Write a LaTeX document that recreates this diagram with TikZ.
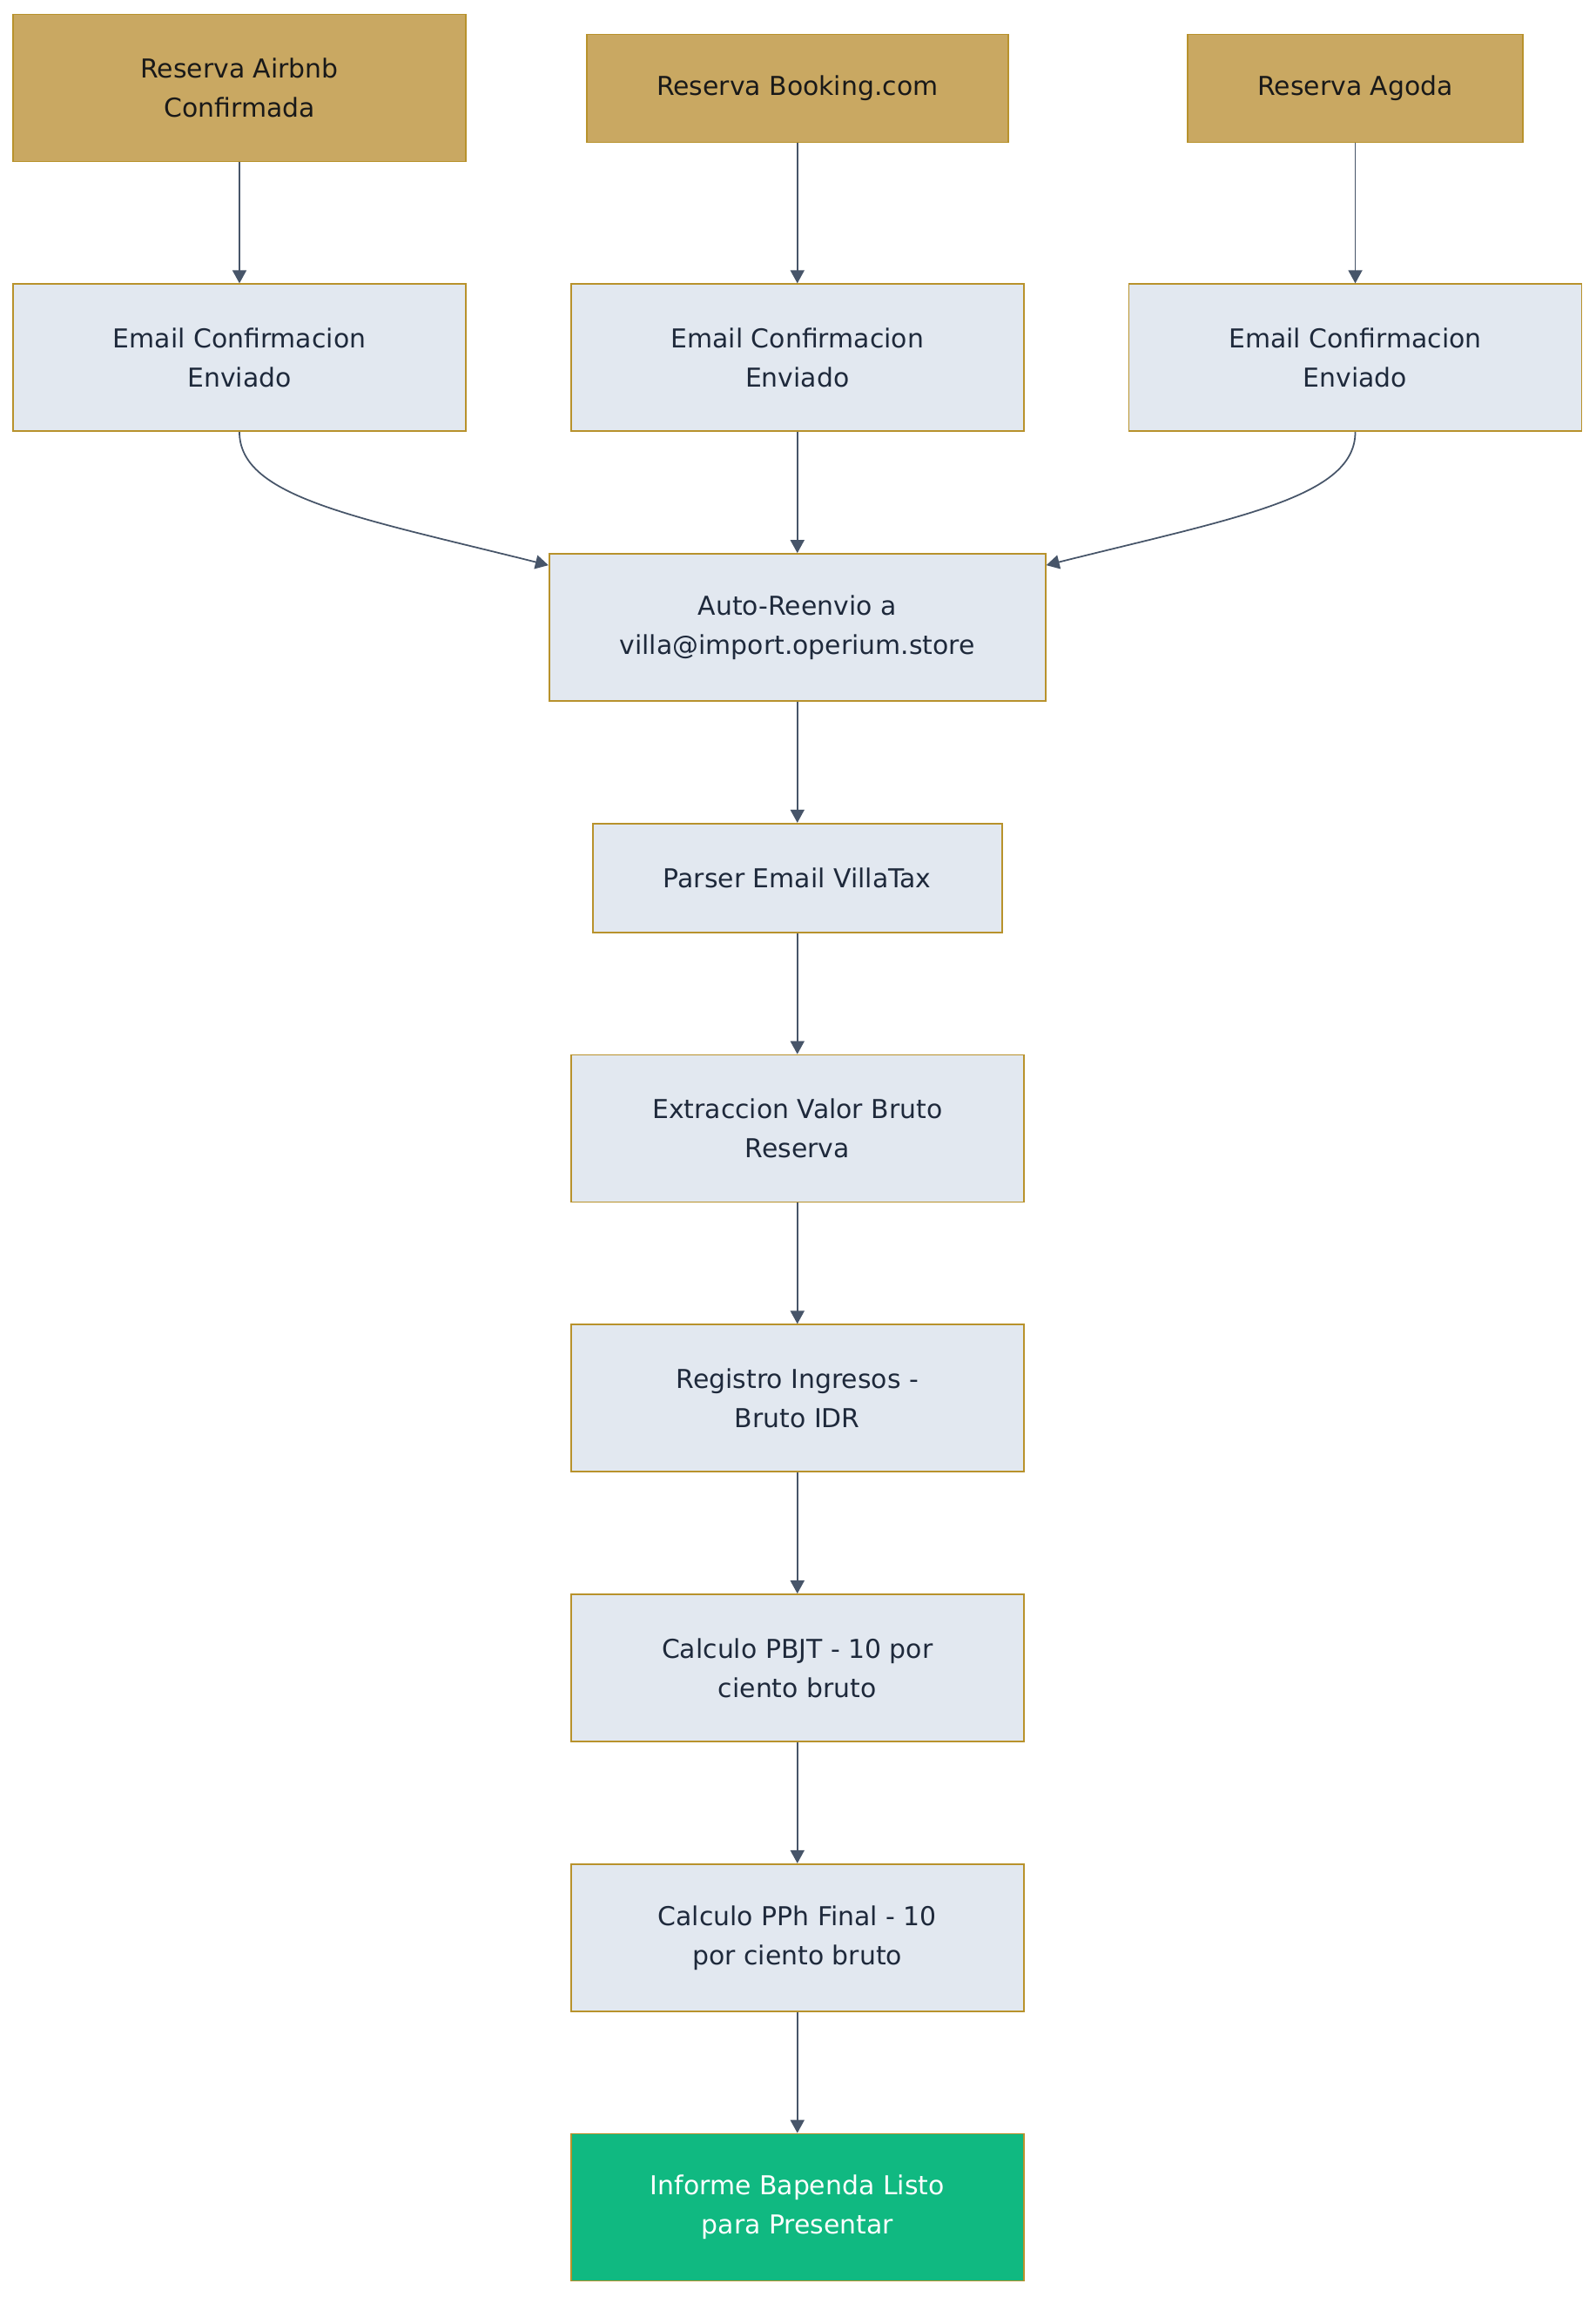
\documentclass[tikz,border=0pt]{standalone}
\usepackage{fontspec}
\setmainfont{DejaVu Sans}
\usepackage{tikz}
\usetikzlibrary{positioning, arrows.meta}
\definecolor{goldfill}{HTML}{C9A862}
\definecolor{goldline}{HTML}{B8922C}
\definecolor{stepfill}{HTML}{E2E8F0}
\definecolor{steptext}{HTML}{1E293B}
\definecolor{edgecol}{HTML}{475569}
\definecolor{donefill}{HTML}{10B981}

\begin{document}
\begin{tikzpicture}[
  font=\fontsize{8.5}{12.8}\selectfont,
  node distance=1.39cm,
  box/.style={rectangle, draw=goldline, line width=0.5pt, inner sep=0pt, align=center, minimum width=52mm, minimum height=16.9mm},
  src/.style={box, fill=goldfill, text=black!90},
  proc/.style={box, fill=stepfill, text=steptext},
  done/.style={box, fill=donefill, text=white},
  arr/.style={-{Triangle[length=1.5mm, width=1.6mm]}, draw=edgecol, line width=0.5pt}
]
\useasboundingbox (0,0) rectangle (18.32,-26.38);
% ----- sources -----
\node[src] (air) at (2.75,-1.01) {Reserva Airbnb\\Confirmada};
\node[proc, below=of air] (m1) {Email Confirmacion\\Enviado};
\node[proc, right=1.19cm of m1] (m2) {Email Confirmacion\\Enviado};
\node[proc, right=1.19cm of m2] (m3) {Email Confirmacion\\Enviado};
\node[src, above=1.61cm of m2, minimum width=48.4mm, minimum height=12.4mm] (bk) {Reserva Booking.com};
\node[src, above=1.61cm of m3, minimum width=38.5mm, minimum height=12.4mm] (ag) {Reserva Agoda};
\draw[arr] (air) -- (m1);
\draw[arr] (bk) -- (m2);
\draw[arr] (ag) -- (m3);
% ----- pipeline -----
\node[proc, below=of m2, minimum width=57mm] (fwd) {Auto-Reenvio a\\villa@import.operium.store};
\draw[arr] (m1.south) .. controls +(0,-0.75) and +(-2.2,0.55) .. ([yshift=-1.4mm]fwd.north west);
\draw[arr] (m2) -- (fwd);
\draw[arr] (m3.south) .. controls +(0,-0.75) and +(2.2,0.55) .. ([yshift=-1.4mm]fwd.north east);
\node[proc, below=of fwd, minimum width=47mm, minimum height=12.5mm] (prs) {Parser Email VillaTax};
\node[proc, below=of prs] (ext) {Extraccion Valor Bruto\\Reserva};
\node[proc, below=of ext] (reg) {Registro Ingresos -\\Bruto IDR};
\node[proc, below=of reg] (pbjt) {Calculo PBJT - 10 por\\ciento bruto};
\node[proc, below=of pbjt] (pph) {Calculo PPh Final - 10\\por ciento bruto};
\node[done, below=of pph] (rep) {Informe Bapenda Listo\\para Presentar};
\draw[arr] (fwd) -- (prs);
\draw[arr] (prs) -- (ext);
\draw[arr] (ext) -- (reg);
\draw[arr] (reg) -- (pbjt);
\draw[arr] (pbjt) -- (pph);
\draw[arr] (pph) -- (rep);
\end{tikzpicture}
\end{document}
